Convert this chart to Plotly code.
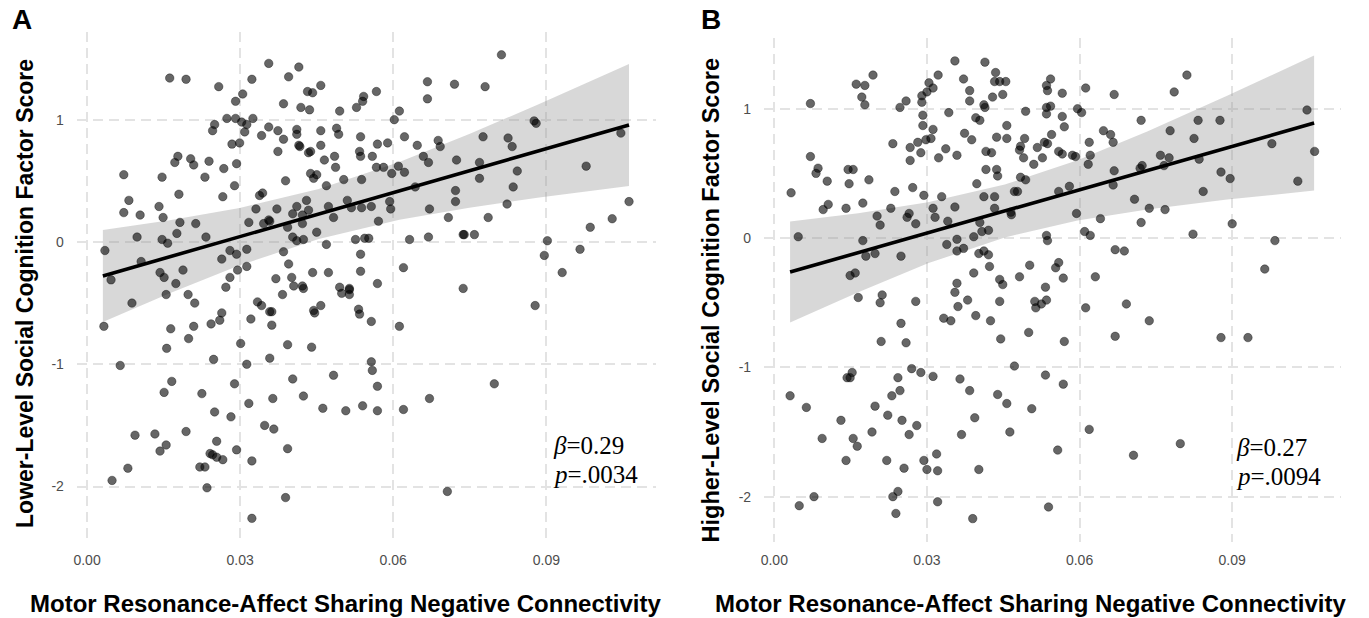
import plotly.graph_objects as go

# ---------------- data ----------------
x_ticks = [0.00, 0.03, 0.06, 0.09]
x_labels = ["0.00", "0.03", "0.06", "0.09"]
y_ticks = [-2, -1, 0, 1]
y_labels = ["-2", "-1", "0", "1"]

x_title = "Motor Resonance-Affect Sharing Negative Connectivity"
yA_title = "Lower-Level Social Cognition Factor Score"
yB_title = "Higher-Level Social Cognition Factor Score"

A_x = [0.0356,0.0162,0.0194,0.0323,0.0258,0.0305,0.0291,0.0274,0.0291,0.0303,
       0.0313,0.0325,0.0250,0.0246,0.0309,0.0342,0.0356,0.0284,0.0299,0.0178,
       0.0172,0.0203,0.0209,0.0239,0.0072,0.0147,0.0231,0.0268,0.0293,0.0289,
       0.0180,0.0266,0.0082,0.0141,0.0072,0.0104,0.0149,0.0338,0.0344,0.0331,
       0.0182,0.0213,0.0317,0.0346,0.0356,0.0098,0.0147,0.0158,0.0176,0.0233,
       0.0035,0.0280,0.0293,0.0313,0.0264,0.0106,0.0143,0.0151,0.0188,0.0295,
       0.0313,0.0047,0.0174,0.0280,0.0272,
       0.0415,0.0395,0.0458,0.0432,0.0442,0.0667,0.0720,0.0667,0.0567,0.0542,
       0.0540,0.0528,0.0385,0.0419,0.0436,0.0495,0.0612,0.0602,0.0374,0.0411,
       0.0411,0.0458,0.0489,0.0493,0.0385,0.0415,0.0417,0.0458,0.0536,0.0622,
       0.0374,0.0434,0.0438,0.0534,0.0536,0.0559,0.0569,0.0589,0.0647,0.0688,
       0.0692,0.0465,0.0485,0.0487,
       0.0659,0.0669,0.0724,0.0567,0.0581,0.0597,0.0610,0.0622,
       0.0389,0.0438,0.0444,0.0450,0.0469,0.0503,0.0538,0.0643,0.0722,0.0722,
       0.0372,0.0411,0.0430,0.0434,0.0403,0.0422,0.0473,0.0483,0.0510,0.0518,
       0.0538,0.0557,0.0593,0.0595,0.0671,0.0708,0.0358,0.0393,0.0422,0.0571,
       0.0450,0.0403,0.0411,0.0424,0.0469,0.0526,0.0544,0.0552,0.0632,0.0669,
       0.0737,0.0385,0.0536,0.0395,0.0442,0.0473,0.0536,0.0620,0.0370,0.0401,
       0.0405,0.0422,0.0495,0.0514,0.0569,
       0.0812,0.0780,0.0876,0.0880,0.0776,0.0825,0.0833,0.1046,0.0769,0.0769,
       0.0843,0.0835,0.0978,0.0823,0.0786,0.1062,0.1029,0.0986,0.0739,0.0759,
       0.0902,0.0896,0.0966,0.0931,0.0737,
       0.0088,0.0155,0.0198,0.0211,0.0033,0.0164,0.0209,0.0199,0.0243,0.0260,
       0.0264,0.0156,0.0301,0.0321,0.0334,0.0342,0.0358,0.0248,0.0313,0.0358,
       0.0065,0.0166,0.0151,0.0225,0.0289,0.0317,0.0250,0.0282,0.0348,0.0194,
       0.0094,0.0133,0.0155,0.0143,0.0254,0.0293,0.0241,0.0246,0.0254,0.0266,
       0.0323,0.0221,0.0231,0.0080,0.0049,0.0235,0.0323,
       0.0383,0.0424,0.0514,0.0499,0.0514,0.0362,
       0.0444,0.0446,0.0458,0.0532,0.0534,0.0557,0.0362,0.0612,0.0393,0.0440,
       0.0557,0.0559,0.0483,0.0403,0.0569,0.0364,0.0424,0.0462,0.0507,0.0540,
       0.0569,0.0620,0.0671,0.0366,0.0393,0.0389,0.0706,0.0878,0.0798]

A_y = [1.46,1.34,1.33,1.33,1.27,1.21,1.15,1.01,1.01,0.98,
       0.96,1.01,0.96,0.91,0.90,0.87,0.94,0.80,0.81,0.70,
       0.65,0.68,0.63,0.66,0.55,0.53,0.53,0.60,0.64,0.46,
       0.39,0.37,0.34,0.29,0.24,0.22,0.20,0.38,0.40,0.27,
       0.16,0.15,0.16,0.15,0.18,0.04,0.02,-0.01,0.07,0.04,
       -0.07,-0.07,-0.10,-0.06,-0.14,-0.16,-0.25,-0.29,-0.23,-0.23,
       -0.20,-0.31,-0.34,-0.29,-0.37,
       1.43,1.35,1.28,1.23,1.22,1.31,1.29,1.17,1.23,1.19,
       1.15,1.10,1.13,1.10,1.08,1.07,1.07,1.00,0.91,0.92,
       0.88,0.91,0.93,0.88,0.84,0.79,0.78,0.79,0.86,0.86,
       0.74,0.73,0.74,0.74,0.70,0.70,0.80,0.81,0.79,0.83,
       0.78,0.67,0.70,0.61,
       0.70,0.65,0.67,0.61,0.61,0.56,0.62,0.57,
       0.50,0.56,0.52,0.55,0.46,0.51,0.51,0.45,0.42,0.33,
       0.27,0.29,0.34,0.26,0.23,0.22,0.29,0.20,0.34,0.28,
       0.28,0.29,0.33,0.27,0.27,0.20,0.17,0.12,0.15,0.17,
       0.08,0.04,0.01,0.02,-0.02,0.02,0.03,0.03,0.02,0.04,
       0.06,-0.08,-0.10,-0.18,-0.25,-0.25,-0.24,-0.21,-0.30,-0.29,
       -0.36,-0.36,-0.37,-0.38,-0.34,
       1.53,1.27,0.99,0.97,0.86,0.85,0.78,0.89,0.65,0.52,
       0.58,0.45,0.62,0.31,0.20,0.33,0.19,0.12,0.06,0.06,
       0.01,-0.11,-0.06,-0.25,-0.38,
       -0.50,-0.43,-0.43,-0.50,-0.69,-0.71,-0.69,-0.79,-0.67,-0.64,
       -0.58,-0.87,-0.83,-0.63,-0.49,-0.52,-0.57,-0.96,-1.00,-0.95,
       -1.01,-1.14,-1.23,-1.24,-1.16,-1.32,-1.39,-1.43,-1.50,-1.55,
       -1.58,-1.57,-1.66,-1.71,-1.63,-1.70,-1.73,-1.74,-1.76,-1.78,
       -1.79,-1.84,-1.84,-1.85,-1.95,-2.01,-2.26,
       -0.43,-0.38,-0.39,-0.42,-0.43,-0.57,
       -0.56,-0.58,-0.52,-0.55,-0.59,-0.65,-0.68,-0.69,-0.84,-0.86,
       -0.98,-1.05,-1.09,-1.12,-1.18,-1.28,-1.26,-1.36,-1.38,-1.34,
       -1.38,-1.37,-1.28,-1.53,-1.69,-2.09,-2.04,-0.52,-1.16]

B_x = [0.0355,0.0194,0.0161,0.0178,0.0322,0.0304,0.0312,0.0300,0.0290,0.0290,
       0.0071,0.0172,0.0178,0.0259,0.0247,0.0343,0.0292,0.0292,0.0312,0.0298,
       0.0308,0.0282,0.0233,0.0267,0.0288,0.0267,0.0337,0.0323,0.0359,0.0071,
       0.0086,0.0082,0.0104,0.0145,0.0155,0.0147,0.0186,0.0033,0.0237,0.0272,
       0.0294,0.0329,0.0096,0.0106,0.0141,0.0174,0.0229,0.0265,0.0261,0.0202,
       0.0208,0.0312,0.0316,0.0278,0.0341,0.0355,0.0047,0.0174,0.0339,0.0359,
       0.0359,0.0180,0.0198,0.0249,0.0149,0.0159,0.0359,
       0.0414,0.0372,0.0435,0.0433,0.0443,0.0455,0.0384,0.0384,0.0429,0.0449,
       0.0412,0.0414,0.0543,0.0535,0.0537,0.0566,0.0612,0.0668,0.0494,0.0535,
       0.0543,0.0535,0.0566,0.0570,0.0596,0.0604,0.0396,0.0404,0.0721,0.0457,
       0.0374,0.0388,0.0437,0.0457,0.0492,0.0484,0.0482,0.0490,0.0517,0.0531,
       0.0537,0.0545,0.0527,0.0510,0.0559,0.0566,0.0586,0.0592,0.0619,0.0621,
       0.0617,0.0647,0.0661,0.0666,0.0416,0.0427,0.0416,0.0437,0.0439,0.0484,
       0.0494,0.0398,0.0472,0.0478,0.0580,0.0559,0.0668,0.0666,0.0723,0.0719,
       0.0412,0.0433,0.0433,0.0465,0.0466,0.0594,0.0641,0.0708,0.0737,0.0721,0.0404,
       0.0372,0.0392,0.0408,0.0421,0.0535,0.0537,0.0610,0.0621,0.0402,0.0412,
       0.0421,0.0670,0.0688,0.0423,0.0502,0.0559,0.0553,0.0392,0.0482,0.0568,
       0.0631,0.0443,0.0449,0.0533,
       0.0811,0.0786,0.1047,0.0833,0.0876,0.0778,0.0825,0.0978,0.0759,0.0776,
       0.0835,0.0766,0.1062,0.0878,0.0896,0.1029,0.0843,0.0768,0.0900,0.0823,0.0984,0.0964,
       0.0165,0.0212,0.0208,0.0278,0.0355,0.0361,0.0249,0.0333,0.0347,0.0210,
       0.0259,0.0153,0.0143,0.0149,0.0270,0.0288,0.0312,0.0243,0.0247,0.0231,
       0.0031,0.0063,0.0198,0.0223,0.0251,0.0280,0.0265,0.0131,0.0094,0.0155,
       0.0163,0.0192,0.0319,0.0294,0.0300,0.0321,0.0141,0.0221,0.0255,0.0078,
       0.0049,0.0243,0.0233,0.0239,0.0321,
       0.0380,0.0443,0.0512,0.0525,0.0535,0.0514,0.0396,0.0425,0.0445,0.0500,
       0.0570,0.0612,0.0692,0.0737,0.0670,0.0472,0.0365,0.0384,0.0439,0.0457,
       0.0533,0.0568,0.0506,0.0394,0.0368,0.0463,0.0557,0.0619,0.0706,0.0402,
       0.0539,0.0390,0.0878,0.0931,0.0798]

B_y = [1.37,1.26,1.19,1.18,1.26,1.20,1.16,1.13,1.10,1.05,
       1.04,1.09,1.03,1.06,1.01,0.97,0.95,0.87,0.84,0.76,
       0.77,0.74,0.73,0.70,0.66,0.60,0.69,0.62,0.64,0.63,
       0.54,0.50,0.44,0.53,0.53,0.42,0.45,0.35,0.36,0.39,
       0.33,0.32,0.22,0.26,0.23,0.27,0.23,0.19,0.16,0.17,
       0.10,0.23,0.16,0.11,0.13,0.24,0.01,-0.02,-0.05,-0.01,
       -0.10,-0.14,-0.12,-0.14,-0.29,-0.27,-0.35,
       1.36,1.23,1.28,1.21,1.21,1.21,1.14,1.06,1.09,1.11,
       1.03,1.01,1.23,1.18,1.14,1.12,1.16,1.11,0.98,1.01,
       1.02,0.96,0.94,0.86,1.00,0.97,0.93,0.91,0.91,0.87,
       0.81,0.76,0.78,0.77,0.77,0.71,0.68,0.62,0.70,0.74,
       0.73,0.80,0.62,0.57,0.67,0.65,0.64,0.63,0.74,0.64,
       0.57,0.83,0.80,0.74,0.67,0.66,0.53,0.53,0.48,0.47,
       0.45,0.42,0.36,0.36,0.40,0.36,0.52,0.41,0.56,0.54,
       0.32,0.32,0.23,0.20,0.18,0.19,0.15,0.30,0.23,0.12,0.12,
       -0.08,0.01,0.05,0.06,0.02,-0.02,0.05,0.02,-0.12,-0.10,
       -0.13,-0.09,-0.10,-0.22,-0.21,-0.19,-0.23,-0.27,-0.30,-0.31,
       -0.30,-0.32,-0.36,-0.38,
       1.26,1.13,0.99,0.91,0.91,0.83,0.77,0.73,0.64,0.62,
       0.61,0.56,0.67,0.51,0.46,0.44,0.36,0.22,0.11,0.03,-0.02,-0.24,
       -0.46,-0.44,-0.50,-0.49,-0.42,-0.53,-0.66,-0.62,-0.64,-0.80,
       -0.81,-1.04,-1.08,-1.08,-1.01,-1.04,-1.07,-1.08,-1.18,-1.22,
       -1.22,-1.31,-1.30,-1.37,-1.41,-1.45,-1.52,-1.41,-1.55,-1.55,
       -1.61,-1.50,-1.67,-1.72,-1.79,-1.80,-1.72,-1.72,-1.78,-2.00,
       -2.07,-1.96,-2.00,-2.13,-2.04,
       -0.48,-0.49,-0.49,-0.51,-0.48,-0.54,-0.60,-0.64,-0.78,-0.73,
       -0.80,-0.54,-0.51,-0.64,-0.76,-0.99,-1.09,-1.18,-1.21,-1.28,
       -1.06,-1.13,-1.32,-1.39,-1.52,-1.50,-1.64,-1.48,-1.68,-1.79,
       -2.08,-2.17,-0.77,-0.77,-1.59]

# fitted line and 95% band
A_fit_x = [0.0031, 0.0162, 0.0299, 0.0454, 0.0612, 0.0749, 0.0886, 0.1062]
A_fit_y = [-0.278, -0.121, 0.043, 0.228, 0.418, 0.581, 0.746, 0.957]
A_ci_hi = [0.098, 0.177, 0.278, 0.433, 0.654, 0.882, 1.128, 1.455]
A_ci_lo = [-0.654, -0.419, -0.191, 0.024, 0.182, 0.280, 0.363, 0.458]

B_fit_x = [0.0031, 0.0165, 0.0302, 0.0453, 0.0596, 0.0733, 0.0890, 0.1061]
B_fit_y = [-0.263, -0.114, 0.040, 0.209, 0.369, 0.523, 0.698, 0.889]
B_ci_hi = [0.128, 0.192, 0.277, 0.413, 0.602, 0.824, 1.100, 1.411]
B_ci_lo = [-0.654, -0.419, -0.196, 0.005, 0.135, 0.221, 0.297, 0.367]

A_stats = ["<i>β</i>=0.29", "<i>p</i>=.0034"]
B_stats = ["<i>β</i>=0.27", "<i>p</i>=.0094"]

# ---------------- figure ----------------
W, H = 1369, 618
DX = -3  # small horizontal alignment correction (pixels)
fig = go.Figure()

def add_panel(xs, ys, fx, fy, lo, hi, xa, ya):
    fig.add_trace(go.Scatter(
        x=fx + fx[::-1], y=hi + lo[::-1], mode="lines", fill="toself",
        fillcolor="rgba(153,153,153,0.38)", line=dict(width=0),
        hoverinfo="skip", showlegend=False, xaxis=xa, yaxis=ya))
    fig.add_trace(go.Scatter(
        x=xs, y=ys, mode="markers",
        marker=dict(size=8.5, color="rgba(0,0,0,0.6)",
                    line=dict(width=1, color="rgba(0,0,0,0.35)")),
        hoverinfo="skip", showlegend=False, xaxis=xa, yaxis=ya))
    fig.add_trace(go.Scatter(
        x=fx, y=fy, mode="lines", line=dict(color="black", width=3.6),
        hoverinfo="skip", showlegend=False, xaxis=xa, yaxis=ya))

add_panel(A_x, A_y, A_fit_x, A_fit_y, A_ci_lo, A_ci_hi, "x", "y")
add_panel(B_x, B_y, B_fit_x, B_fit_y, B_ci_lo, B_ci_hi, "x2", "y2")

grid = dict(showgrid=True, gridcolor="#e3e3e3", gridwidth=1.5, griddash="10px,6px",
            zeroline=False, showline=False, ticks="",
            tickfont=dict(family="Liberation Sans", size=14, color="#4d4d4d"))

def px(v):
    return (v + DX) / W

fig.update_layout(
    width=W, height=H, margin=dict(l=0, r=0, t=0, b=0),
    paper_bgcolor="white", plot_bgcolor="white",
    xaxis=dict(domain=[px(77), px(657)], range=[-0.002, 0.1114], anchor="y",
               tickvals=x_ticks, ticktext=x_labels, ticklabelstandoff=8, **grid),
    yaxis=dict(domain=[1 - 541.6 / H, 1 - 31.6 / H], range=[-2.45, 1.72], anchor="x",
               tickvals=y_ticks, ticktext=y_labels, ticklabelstandoff=12, **grid),
    xaxis2=dict(domain=[px(765.8), px(1344)], range=[-0.002, 0.1114], anchor="y2",
                tickvals=x_ticks, ticktext=x_labels, ticklabelstandoff=8, **grid),
    yaxis2=dict(domain=[1 - 541.9 / H, 1 - 37.6 / H], range=[-2.35, 1.55], anchor="x2",
                tickvals=y_ticks, ticktext=y_labels, ticklabelstandoff=12, **grid),
)

anns = [
    dict(text="<b>" + x_title + "</b>", x=px(346), y=1 - 603 / H, size=24),
    dict(text="<b>" + x_title + "</b>", x=px(1033), y=1 - 603 / H, size=24),
    dict(text="<b>" + yA_title + "</b>", x=px(25), y=1 - 293 / H, textangle=-90, size=23),
    dict(text="<b>" + yB_title + "</b>", x=px(713), y=1 - 300 / H, textangle=-90, size=23.5),
    dict(text="<b>A</b>", x=px(22), y=1 - 20 / H, size=28),
    dict(text="<b>B</b>", x=px(713), y=1 - 20 / H, size=28),
]
for a in anns:
    sz = a.pop("size")
    a.update(font=dict(family="Liberation Sans", size=sz, color="black"),
             xref="paper", yref="paper", showarrow=False, xanchor="center", yanchor="middle")
    fig.add_annotation(**a)

stat_font = dict(family="Liberation Serif", size=25, color="black")
for txt, xp, yp in [(A_stats[0], 552, 445), (A_stats[1], 552, 474),
                    (B_stats[0], 1237, 447), (B_stats[1], 1237, 476)]:
    fig.add_annotation(text=txt, x=px(xp), y=1 - yp / H, xref="paper", yref="paper",
                       showarrow=False, xanchor="left", yanchor="middle", font=stat_font)

fig.write_html("out.html", config={"displayModeBar": False},
               post_script="document.body.style.margin='0';document.body.style.overflow='hidden';")
